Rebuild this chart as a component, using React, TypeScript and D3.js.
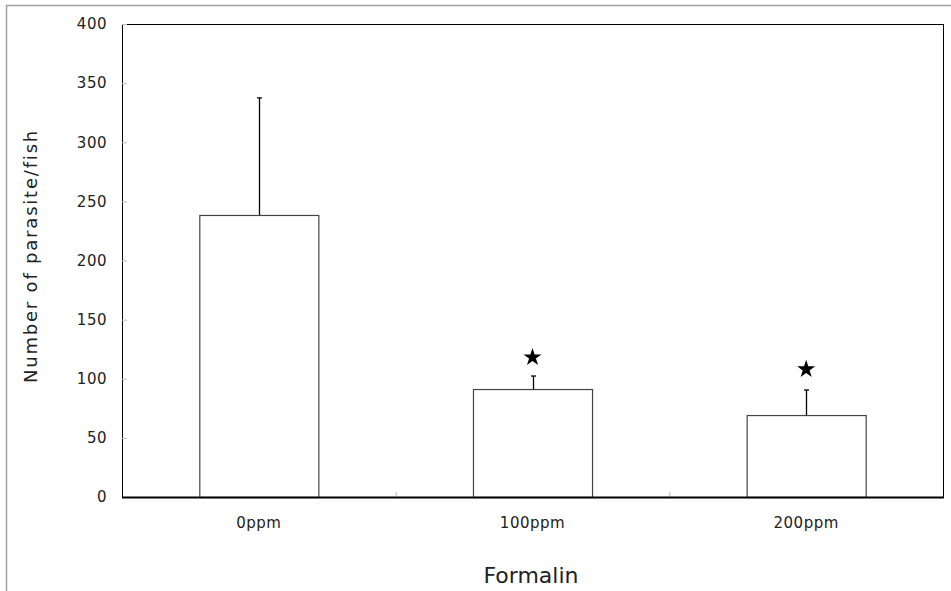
import React from 'react';
import * as d3 from 'd3';

// values
const groups = ['0ppm', '100ppm', '200ppm'];
const means = [238.5, 91.3, 69.3];
const errors = [99, 11, 21.2];
const starAt = [null, 118, 108];
const yTicks = [0, 50, 100, 150, 200, 250, 300, 350, 400];

const W = 951;
const H = 591;
const margin = { top: 24, right: 8, bottom: 94, left: 122 };
const font = '"DejaVu Sans", sans-serif';

const App: React.FC = () => {
  const x0 = margin.left;
  const x1 = W - margin.right;
  const y0 = H - margin.bottom;

  const x = d3.scaleBand<string>().domain(groups).range([x0, x1]).paddingInner(0.565).paddingOuter(0.2825);
  const y = d3.scaleLinear().domain([0, 400]).range([y0, margin.top]);
  const star = d3.symbol(d3.symbolStar, 100)();

  const bounds = groups.slice(1).map(g => (x(g) as number) - (x.step() - x.bandwidth()) / 2);

  return (
    <svg width={W} height={H} style={{ position: 'absolute', left: 0, top: 0, background: '#fff' }}>
      {/* outer frame */}
      <path d={`M6.5,${H} V5.5 H${W}`} fill="none" stroke="#a0a0a0" strokeWidth={1.5} />

      {/* plot frame */}
      <rect x={x0 + 0.5} y={margin.top + 0.5} width={x1 - x0} height={y0 - margin.top} fill="#fff" stroke="#000" strokeWidth={1} />

      {/* y ticks */}
      {yTicks.map(t => (
        <g key={t}>
          <line x1={x0} x2={x0 + 5} y1={y(t) + 0.5} y2={y(t) + 0.5} stroke="#bbb" />
          <text x={107} y={y(t)} dy="0.35em" textAnchor="end" fontSize={15} letterSpacing={0.5} fontFamily={font} fill="#222">{t}</text>
        </g>
      ))}

      {/* x inner ticks at category boundaries */}
      {bounds.map((b, i) => (
        <line key={i} x1={b + 0.5} x2={b + 0.5} y1={y0} y2={y0 - 5} stroke="#bbb" />
      ))}

      {/* bars */}
      {groups.map((g, i) => (
        <rect key={g} x={(x(g) as number) + 0.5} y={y(means[i]) + 0.5} width={x.bandwidth()} height={y0 - y(means[i])}
          fill="#fff" stroke="#444" strokeWidth={1.2} />
      ))}

      {/* error bars */}
      {groups.map((g, i) => {
        const cx = Math.round((x(g) as number) + x.bandwidth() / 2) + 0.5;
        const top = y(means[i] + errors[i]);
        return (
          <g key={g} stroke="#000" strokeWidth={1.3}>
            <line x1={cx} x2={cx} y1={y(means[i])} y2={top} />
            <line x1={cx - 2.5} x2={cx + 2.5} y1={top} y2={top} />
          </g>
        );
      })}

      {/* significance stars */}
      {groups.map((g, i) => starAt[i] == null ? null : (
        <path key={g} d={star as string} fill="#000"
          transform={`translate(${(x(g) as number) + x.bandwidth() / 2},${y(starAt[i] as number)})`} />
      ))}

      {/* x axis line */}
      <line x1={x0} x2={x1 + 1} y1={y0 + 0.5} y2={y0 + 0.5} stroke="#000" strokeWidth={2} />

      {/* x tick labels */}
      {groups.map(g => (
        <text key={g} x={(x(g) as number) + x.bandwidth() / 2} y={523} dy="0.35em" textAnchor="middle" fontSize={15} letterSpacing={0.5} fontFamily={font} fill="#222">{g}</text>
      ))}

      {/* axis titles */}
      <text x={531} y={575} dy="0.35em" textAnchor="middle" fontSize={22} fontFamily={font} fill="#222">Formalin</text>
      <text transform={`translate(31,256) rotate(-90)`} dy="0.35em" textAnchor="middle" fontSize={18} letterSpacing={1.8} fontFamily={font} fill="#222">
        Number of parasite/fish
      </text>
    </svg>
  );
};

export default App;
